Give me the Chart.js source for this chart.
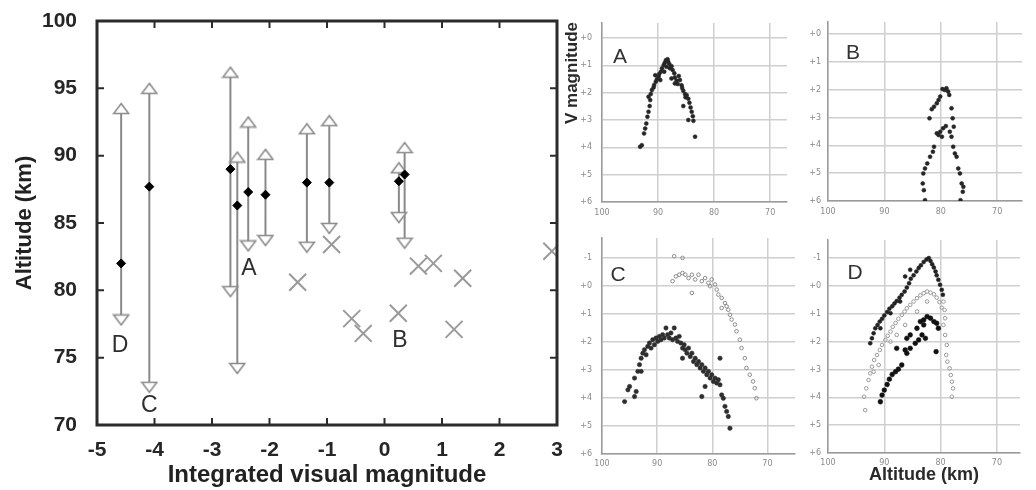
<!DOCTYPE html>
<html>
<head>
<meta charset="utf-8">
<script src="https://cdn.jsdelivr.net/npm/chart.js@4.4.0/dist/chart.umd.min.js"></script>
<style>
  body { margin: 0; background: #fff; width: 1036px; height: 490px; overflow: hidden; position: relative; }
  canvas { position: absolute; filter: blur(0.4px); }
</style>
</head>
<body>
<canvas id="main" width="571" height="490" style="left:0;top:0"></canvas>
<canvas id="panelA" width="236" height="225" style="left:560px;top:0"></canvas>
<canvas id="panelB" width="236" height="225" style="left:800px;top:0"></canvas>
<canvas id="panelC" width="240" height="265" style="left:560px;top:225px"></canvas>
<canvas id="panelD" width="236" height="265" style="left:800px;top:225px"></canvas>
<script>
// ---- main plot: integrated magnitude vs altitude ----
var magTicks = [-5, -4, -3, -2, -1, 0, 1, 2, 3];
var altTicks = [70, 75, 80, 85, 90, 95, 100];

// vertical ranges (arrow heads) with the peak point
var arrowMag    = [-4.58, -4.09, -2.68, -2.56, -2.37, -2.07, -1.35, -0.96, 0.25, 0.35];
var arrowTop    = [93.5, 95.0, 96.2, 89.9, 92.5, 90.1, 92.0, 92.6, 89.1, 90.6];
var arrowBottom = [77.8, 72.8, 79.9, 74.2, 83.3, 83.7, 83.2, 84.6, 85.4, 83.5];
var arrowPeak   = [82.0, 87.7, 89.0, 86.3, 87.3, 87.1, 88.0, 88.0, 88.1, 88.6];

// single-point meteors (crosses)
var crossMag = [-1.51, -0.92, -0.57, -0.37, 0.24, 0.59, 0.85, 1.21, 1.36, 2.91];
var crossAlt = [80.6, 83.4, 77.9, 76.8, 78.3, 81.8, 82.0, 77.1, 80.9, 82.9];

var letterText = ['A', 'B', 'C', 'D'];
var letterMag  = [-2.36, 0.27, -4.09, -4.60];
var letterAlt  = [81.6, 76.3, 71.4, 75.9];

// ---- light curves, [altitude km, V magnitude] ----
var altGrid = [100, 90, 80, 70];

var meteorA = [[93.2,3.98],[92.9,3.92],[92.5,3.49],[92.3,3.31],[92.1,3.13],[91.9,2.88],[91.7,2.70],[91.5,2.49],
  [91.4,2.27],[91.7,2.15],[91.3,2.05],[91.1,1.90],[90.8,1.81],[90.7,1.72],[90.4,1.60],[90.2,1.51],[89.9,1.42],
  [89.8,1.32],[89.5,1.23],[89.3,1.11],[89.0,0.99],[88.8,0.90],[88.6,0.81],[88.3,0.78],[88.2,0.87],[88.0,0.95],
  [87.9,1.11],[87.6,1.03],[87.4,1.17],[87.1,1.29],[87.0,1.44],[86.7,1.56],[86.5,1.68],[86.3,1.39],[86.1,1.54],
  [85.8,1.73],[85.7,1.83],[85.5,1.93],[85.2,2.05],[85.1,2.17],[84.9,2.09],[84.6,2.22],[84.4,2.37],[84.2,2.54],
  [84.0,2.70],[83.8,2.86],[83.7,3.03],[84.6,3.00],[85.5,2.49],[83.4,3.61],[89.6,1.54],[90.5,1.36],[88.5,1.05],
  [88.9,1.23],[87.6,1.48],[87.0,1.66]];

var meteorB = [[79.7,1.98],[79.3,2.01],[79.0,1.95],[78.7,2.07],[78.5,2.19],[80.1,2.25],[80.4,2.37],[80.7,2.49],
  [81.2,2.61],[81.6,2.70],[82.0,3.03],[79.1,3.31],[79.6,3.39],[80.1,3.51],[80.4,3.63],[79.8,3.69],[80.7,3.57],
  [78.4,3.51],[78.1,3.69],[77.7,3.33],[77.9,3.03],[78.1,2.67],[81.2,4.05],[81.4,4.23],[81.9,4.41],[82.4,4.65],
  [82.8,4.83],[83.1,5.01],[83.2,5.37],[83.0,5.61],[82.8,5.97],[77.8,4.05],[77.5,4.29],[77.2,4.41],[76.9,4.83],
  [76.6,5.01],[76.3,5.37],[76.0,5.49],[76.1,5.67],[76.5,5.97]];

var meteorC1 = [[95.9,4.13],[95.3,3.71],[95.0,3.59],[94.1,3.95],[93.8,3.77],[94.1,3.29],[93.5,3.05],[93.2,2.81],
  [92.9,3.05],[92.9,2.58],[92.6,2.40],[92.3,2.28],[92.0,2.46],[91.7,2.16],[91.4,2.04],[91.1,2.22],[90.8,1.92],
  [90.5,2.10],[90.2,1.86],[89.9,1.98],[89.6,1.80],[89.3,1.92],[89.0,1.74],[88.7,1.86],[88.4,1.50],[88.1,1.74],
  [87.8,1.86],[87.5,1.68],[87.2,1.92],[86.9,1.50],[86.6,1.86],[86.3,1.98],[86.0,1.80],[85.7,2.04],[85.4,2.22],
  [85.1,2.10],[84.9,2.28],[84.6,2.40],[84.3,2.22],[84.0,2.52],[83.7,2.40],[83.4,2.70],[83.1,2.58],[82.8,2.81],
  [82.5,2.70],[82.2,2.93],[81.9,2.81],[81.6,3.05],[81.3,2.93],[81.0,3.17],[80.7,3.05],[80.4,3.29],[80.1,3.17],
  [79.8,3.41],[79.5,3.29],[79.2,3.47],[78.9,3.35],[78.6,3.53],[78.3,3.89],[78.0,4.01],[77.7,4.30],[77.4,4.48],
  [77.1,4.66],[76.8,5.08],[81.9,3.95],[78.6,2.58],[85.4,2.58],[81.3,3.59]];

var meteorC2 = [[86.9,-1.06],[85.4,-1.00],[87.2,-0.17],[86.6,-0.34],[86.0,-0.40],[85.4,-0.46],[84.9,-0.40],
  [84.3,-0.28],[83.7,-0.40],[83.1,-0.23],[82.5,-0.40],[81.9,-0.17],[81.3,-0.28],[80.7,-0.11],[80.1,-0.23],
  [79.5,-0.05],[79.2,0.13],[78.9,0.31],[78.3,0.43],[77.7,0.61],[77.4,0.73],[77.1,0.85],[76.8,1.03],[76.5,1.20],
  [75.9,1.38],[75.6,1.62],[75.0,1.92],[74.7,2.22],[74.1,2.58],[73.8,2.93],[73.2,3.17],[72.6,3.41],[72.3,3.65],
  [72.0,4.01],[83.7,0.25],[80.4,0.01],[78.3,0.79]];

var meteorD1 = [[92.5,2.06],[92.2,1.88],[91.9,1.70],[91.6,1.52],[91.2,1.40],[90.8,1.28],[90.4,1.18],[90.0,1.06],
  [89.5,0.94],[89.1,0.82],[88.6,0.73],[88.2,0.63],[87.8,0.54],[87.3,0.42],[86.9,0.32],[86.4,0.20],[86.0,0.06],
  [85.6,-0.10],[85.3,-0.26],[84.8,-0.38],[84.3,-0.52],[83.9,-0.64],[83.5,-0.74],[83.0,-0.86],[82.5,-0.95],
  [82.1,-1.00],[81.8,-0.90],[81.5,-0.78],[81.2,-0.66],[80.9,-0.52],[80.7,-0.38],[80.4,-0.22],[80.1,-0.04],
  [79.8,0.14],[79.6,0.32],[85.4,-0.58],[86.3,-0.34],[87.2,0.56],[88.9,0.98],[90.7,1.52]];

var meteorD2 = [[93.4,4.46],[93.6,3.98],[93.2,3.68],[92.8,3.38],[92.5,3.14],[92.2,2.90],[91.8,2.66],[91.3,2.48],
  [90.8,2.30],[90.4,2.12],[89.8,1.94],[89.4,1.79],[88.9,1.64],[88.5,1.47],[88.0,1.33],[87.5,1.18],[86.9,1.04],
  [86.4,0.92],[86.0,0.80],[85.4,0.68],[84.8,0.56],[84.2,0.44],[83.6,0.34],[83.0,0.26],[82.4,0.20],[81.8,0.24],
  [81.2,0.30],[80.7,0.42],[80.2,0.58],[79.8,0.78],[91.9,3.08],[91.0,2.84],[88.9,2.00],[87.8,1.76],[86.3,1.40],
  [84.2,0.92],[82.4,0.56],[79.5,0.56],[79.3,0.86],[79.2,1.16],[79.5,1.40],[79.2,1.76],[78.9,2.12],[79.0,2.48],
  [78.8,2.72],[78.4,2.96],[78.2,3.20],[78.0,3.44],[77.8,3.68],[78.0,3.98]];

var meteorD3 = [[90.7,4.16],[90.4,3.92],[90.0,3.74],[89.5,3.54],[89.1,3.35],[88.6,3.18],[88.0,3.08],[87.5,2.99],
  [86.9,2.84],[86.3,2.30],[86.0,2.42],[85.4,2.24],[84.5,2.06],[83.9,1.94],[83.3,1.76],[82.7,1.88],[83.6,1.28],
  [83.0,1.22],[82.4,1.10],[81.8,1.16],[81.2,1.28],[80.7,1.34],[80.4,1.52],[80.8,2.36],[83.0,1.40],[84.2,1.52],
  [85.4,1.76],[86.0,1.88],[87.8,2.24]];

var FONT = '"Liberation Sans", Arial, sans-serif';
var SMALL = '"DejaVu Sans", sans-serif';

function triangleImg(up) {
  var c = document.createElement('canvas');
  c.width = 18; c.height = 13;
  var g = c.getContext('2d');
  g.beginPath();
  if (up) { g.moveTo(9, 1.5); g.lineTo(16.5, 11.5); g.lineTo(1.5, 11.5); }
  else { g.moveTo(1.5, 1.5); g.lineTo(16.5, 1.5); g.lineTo(9, 11.5); }
  g.closePath();
  g.fillStyle = '#fff'; g.fill();
  g.lineWidth = 1.6; g.strokeStyle = '#8a8a8a'; g.stroke();
  return c;
}

var segs = [];
arrowMag.forEach(function (m, i) {
  segs.push({ x: m, y: arrowBottom[i] }, { x: m, y: arrowTop[i] }, { x: m, y: null });
});

function pts(xs, ys) {
  return xs.map(function (x, i) { return { x: x, y: ys[i] }; });
}

// box with inward ticks + letters
var framePlugin = {
  id: 'frame',
  afterDraw: function (chart) {
    var a = chart.chartArea, g = chart.ctx, xs = chart.scales.x, ys = chart.scales.y;
    g.save();
    g.strokeStyle = '#2b2b2b';
    g.lineWidth = 2;
    g.beginPath();
    magTicks.forEach(function (v) {
      var p = xs.getPixelForValue(v);
      g.moveTo(p, a.bottom); g.lineTo(p, a.bottom - 7);
      g.moveTo(p, a.top); g.lineTo(p, a.top + 7);
    });
    altTicks.forEach(function (v) {
      var p = ys.getPixelForValue(v);
      g.moveTo(a.left, p); g.lineTo(a.left + 7, p);
      g.moveTo(a.right, p); g.lineTo(a.right - 7, p);
    });
    g.stroke();
    g.lineWidth = 3;
    g.strokeRect(a.left, a.top, a.right - a.left, a.bottom - a.top);
    g.fillStyle = '#2e2e2e';
    g.font = '23px ' + FONT;
    g.textAlign = 'center';
    g.textBaseline = 'middle';
    letterText.forEach(function (t, i) {
      g.fillText(t, xs.getPixelForValue(letterMag[i]), ys.getPixelForValue(letterAlt[i]));
    });
    g.restore();
  }
};

new Chart(document.getElementById('main'), {
  type: 'scatter',
  data: {
    datasets: [
      { data: segs, showLine: true, spanGaps: false, borderColor: '#8a8a8a', borderWidth: 2, pointRadius: 0, order: 4 },
      { data: pts(crossMag, crossAlt), pointStyle: 'crossRot', pointRadius: 12, borderColor: '#9a9a9a', borderWidth: 2, order: 3 },
      { data: pts(arrowMag, arrowTop), pointStyle: triangleImg(true), order: 2 },
      { data: pts(arrowMag, arrowBottom), pointStyle: triangleImg(false), order: 2 },
      { data: pts(arrowMag, arrowPeak), pointStyle: 'rectRot', pointRadius: 4.5, backgroundColor: '#000', borderColor: '#000', borderWidth: 1, order: 1 }
    ]
  },
  options: {
    animation: false,
    responsive: false,
    events: [],
    layout: { padding: { top: 21, right: 3, left: 0, bottom: 0 } },
    plugins: { legend: { display: false }, tooltip: { enabled: false } },
    scales: {
      x: {
        type: 'linear', min: -5, max: 3,
        afterBuildTicks: function (s) { s.ticks = magTicks.map(function (v) { return { value: v }; }); },
        afterFit: function (s) { s.height = 65; s.paddingLeft = 0; s.paddingRight = 0; },
        ticks: { font: { family: FONT, size: 21, weight: 'bold' }, color: '#262626', padding: 13 },
        grid: { display: false, drawTicks: false },
        border: { display: false },
        title: { display: true, text: 'Integrated visual magnitude', color: '#222', font: { family: FONT, size: 24, weight: 'bold' }, padding: { top: 0, bottom: 0 } }
      },
      y: {
        type: 'linear', min: 70, max: 100,
        afterBuildTicks: function (s) { s.ticks = altTicks.map(function (v) { return { value: v }; }); },
        afterFit: function (s) { s.width = 97; s.paddingTop = 0; s.paddingBottom = 0; },
        ticks: { font: { family: FONT, size: 21, weight: 'bold' }, color: '#262626', padding: 20 },
        grid: { display: false, drawTicks: false },
        border: { display: false },
        title: { display: true, text: 'Altitude (km)', color: '#222', font: { family: FONT, size: 22, weight: 'bold' }, padding: { top: 12, bottom: 0 } }
      }
    }
  },
  plugins: [framePlugin]
});

// ---- small light-curve panels ----
var letterPlugin = {
  id: 'panelLetter',
  afterDraw: function (chart, args, opts) {
    var a = chart.chartArea, g = chart.ctx;
    g.save();
    g.fillStyle = '#333';
    g.font = '21px ' + FONT;
    g.textAlign = 'center';
    g.textBaseline = 'middle';
    g.fillText(opts.text, a.left + opts.dx, a.top + opts.dy);
    if (opts.yTitle) {
      // axis title hangs from the top of the panel
      g.translate(12, 22);
      g.rotate(-Math.PI / 2);
      g.textAlign = 'right';
      g.fillStyle = '#2a2a2a';
      g.font = 'bold 17px ' + FONT;
      g.fillText(opts.yTitle, 0, 0);
    }
    g.restore();
  }
};

function series(list, color, radius, hollow) {
  return {
    data: list.map(function (p) { return { x: p[0], y: p[1] }; }),
    pointRadius: radius,
    pointBackgroundColor: hollow ? 'rgba(255,255,255,0)' : color,
    pointBorderColor: color,
    pointBorderWidth: hollow ? 1 : 0.5
  };
}

function magLabel(v) { return v < 0 ? String(v) : '+' + v; }

function panel(id, sets, yMin, yTicks, xMin, letter, box) {
  new Chart(document.getElementById(id), {
    type: 'scatter',
    data: { datasets: sets },
    options: {
      animation: false,
      responsive: false,
      events: [],
      layout: { padding: { top: box.top, right: box.right, left: 0, bottom: 0 } },
      plugins: {
        legend: { display: false },
        tooltip: { enabled: false },
        panelLetter: { text: letter, dx: box.dx, dy: box.dy, yTitle: box.yTitle }
      },
      scales: {
        x: {
          type: 'linear', reverse: true, min: xMin, max: 100,
          afterBuildTicks: function (s) { s.ticks = altGrid.map(function (v) { return { value: v }; }); },
          afterFit: function (s) { s.height = box.xh; s.paddingLeft = 0; s.paddingRight = 0; },
          ticks: { font: { family: SMALL, size: 8 }, color: '#8a8a8a', padding: box.xpad },
          grid: { color: '#cfcfcf', lineWidth: 1.5, drawTicks: false },
          border: { color: '#9a9a9a', width: 1.5 },
          title: box.xTitle ? { display: true, text: box.xTitle, color: '#2a2a2a', font: { family: FONT, size: 18, weight: 'bold' }, padding: { top: 0, bottom: 4 } } : { display: false }
        },
        y: {
          type: 'linear', reverse: true, min: yMin, max: 6,
          afterBuildTicks: function (s) { s.ticks = yTicks.map(function (v) { return { value: v }; }); },
          afterFit: function (s) { s.width = box.yw; s.paddingTop = 0; s.paddingBottom = 0; },
          ticks: { font: { family: SMALL, size: 8 }, color: '#8a8a8a', padding: box.ypad, callback: magLabel },
          grid: { color: '#cfcfcf', lineWidth: 1.5, drawTicks: false },
          border: { color: '#9a9a9a', width: 1.5 }
        }
      }
    },
    plugins: [letterPlugin]
  });
}

panel('panelA', [series(meteorA, '#262626', 2)], -0.55, [0, 1, 2, 3, 4, 5, 6], 67.0, 'A',
  { top: 23, right: 9, yw: 42, xh: 23, xpad: 6, ypad: 10, dx: 18, dy: 34, yTitle: 'V magnitude' });

panel('panelB', [series(meteorB, '#262626', 2)], -0.43, [0, 1, 2, 3, 4, 5, 6], 65.6, 'B',
  { top: 22, right: 14, yw: 28, xh: 24, xpad: 6, ypad: 7, dx: 25, dy: 31 });

panel('panelC', [series(meteorC1, '#2e2e2e', 2.2), series(meteorC2, '#8a8a8a', 1.8, true)], -1.71, [-1, 0, 1, 2, 3, 4, 5, 6], 65.0, 'C',
  { top: 13, right: 3, yw: 42, xh: 36, xpad: 5, ypad: 10, dx: 16, dy: 37 });

panel('panelD', [series(meteorD1, '#222', 2), series(meteorD2, '#9a9a9a', 1.8, true), series(meteorD3, '#111', 2.4)], -1.65, [-1, 0, 1, 2, 3, 4, 5, 6], 65.9, 'D',
  { top: 15, right: 16, yw: 28, xh: 37, xpad: 5, ypad: 7, dx: 27, dy: 33, xTitle: 'Altitude (km)' });
</script>
</body>
</html>
